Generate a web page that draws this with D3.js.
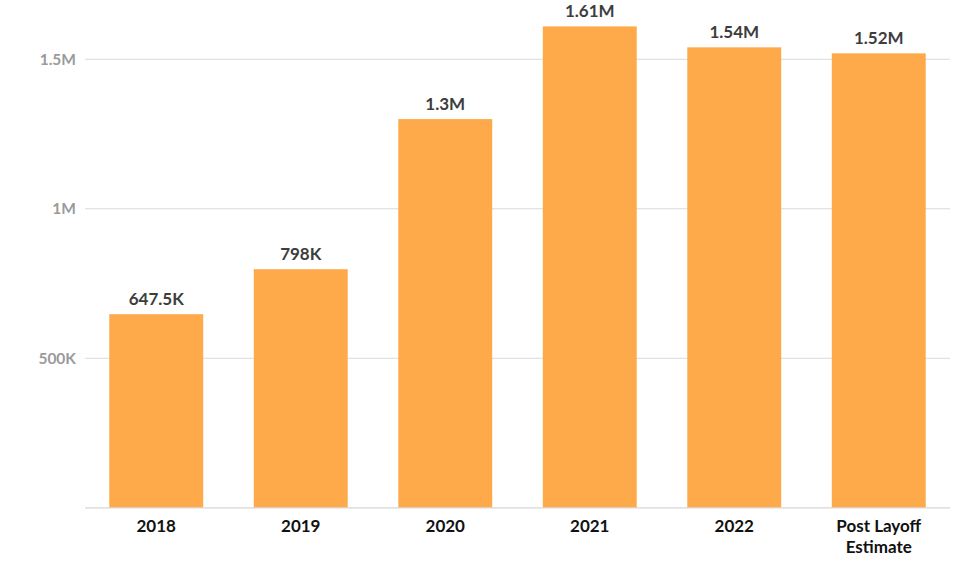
<!DOCTYPE html>
<html>
<head>
<meta charset="utf-8">
<script src="https://cdn.jsdelivr.net/npm/d3@7"></script>
<style>
  body { margin: 0; background: #fff; }
  svg { display: block; }
</style>
</head>
<body>
<svg id="chart" width="960" height="575"></svg>
<script>
const categories = ["2018", "2019", "2020", "2021", "2022", "Post Layoff\nEstimate"];
const values = [647500, 798000, 1300000, 1610000, 1540000, 1520000];
const valueLabels = ["647.5K", "798K", "1.3M", "1.61M", "1.54M", "1.52M"];
const tickValues = [500000, 1000000, 1500000];
const tickLabels = ["500K", "1M", "1.5M"];

(function () {
const svg = d3.select("#chart");
const mLeft = 85, mRight = 950, mBottom = 507.8;

const x = d3.scaleBand().domain(categories).range([mLeft, mRight]).paddingInner(0.35).paddingOuter(0.168);
const y = d3.scaleLinear().domain([0, 1500000]).range([mBottom, mBottom - 448.5]);

// gridlines
svg.append("g").selectAll("line").data(tickValues).join("line")
  .attr("x1", mLeft).attr("x2", mRight)
  .attr("y1", d => y(d)).attr("y2", d => y(d))
  .attr("stroke", "#d6dbdb").attr("stroke-width", 1);

// y tick labels
svg.append("g").selectAll("text").data(tickValues).join("text")
  .attr("x", 76).attr("y", d => y(d)).attr("dy", "0.35em")
  .attr("text-anchor", "end")
  .attr("font-family", "Lato, sans-serif").attr("font-size", 15.5).attr("font-weight", 700)
  .attr("fill", "#9a9a9a")
  .text((d, i) => tickLabels[i]);

// bars
svg.append("g").selectAll("rect").data(values).join("rect")
  .attr("x", (d, i) => x(categories[i]))
  .attr("width", x.bandwidth())
  .attr("y", d => y(d))
  .attr("height", d => y(0) - y(d))
  .attr("fill", "#FEAA4A");

// baseline
svg.append("line").attr("x1", mLeft).attr("x2", mRight).attr("y1", y(0)).attr("y2", y(0))
  .attr("stroke", "#d6d6d6").attr("stroke-width", 1.2);

// value labels
svg.append("g").selectAll("text").data(values).join("text")
  .attr("x", (d, i) => x(categories[i]) + x.bandwidth() / 2)
  .attr("y", d => y(d) - 9.5)
  .attr("text-anchor", "middle")
  .attr("font-family", "Lato, sans-serif").attr("font-size", 17).attr("font-weight", 700)
  .attr("fill", "#3d3d3d")
  .text((d, i) => valueLabels[i]);

// x labels
const xl = svg.append("g").selectAll("text").data(categories).join("text")
  .attr("x", d => x(d) + x.bandwidth() / 2)
  .attr("y", 532)
  .attr("text-anchor", "middle")
  .attr("font-family", "Lato, sans-serif").attr("font-size", 17).attr("font-weight", 700)
  .attr("fill", "#111");
xl.each(function (d) {
  const lines = d.split("\n");
  d3.select(this).selectAll("tspan").data(lines).join("tspan")
    .attr("x", x(d) + x.bandwidth() / 2)
    .attr("dy", (l, i) => i === 0 ? 0 : 21)
    .text(l => l);
});
})();
</script>
</body>
</html>
